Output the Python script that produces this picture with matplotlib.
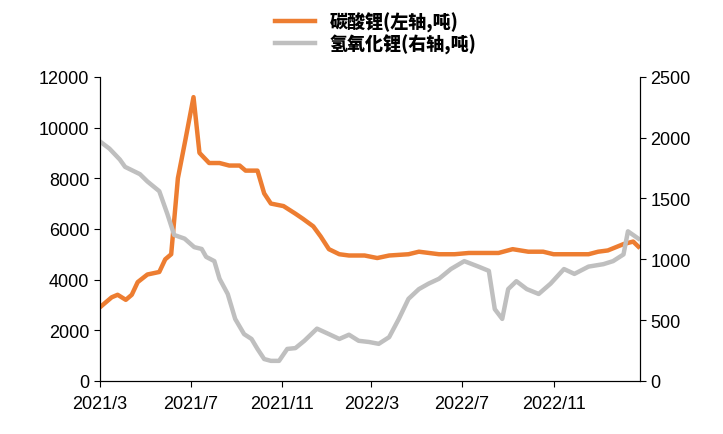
import matplotlib.pyplot as plt
import matplotlib.font_manager as fm
import pandas as pd

plt.rcParams["font.family"] = "Liberation Sans"

# find a CJK font file for the legend text
cjk_files = [f for f in fm.findSystemFonts() if "CJK" in f or "cjk" in f.lower()]
cjk_prop = fm.FontProperties(fname=sorted(cjk_files)[0], size=13) if cjk_files else \
    fm.FontProperties(family="Noto Sans CJK SC", size=13)

carb_dates = ["2021-03-01", "2021-03-17", "2021-03-25", "2021-04-05", "2021-04-13", "2021-04-21",
              "2021-05-04", "2021-05-20", "2021-05-28", "2021-06-05", "2021-06-14", "2021-06-24",
              "2021-07-05", "2021-07-13", "2021-07-26", "2021-08-09", "2021-08-22", "2021-09-05",
              "2021-09-13", "2021-09-29", "2021-10-08", "2021-10-17", "2021-11-03", "2021-11-19",
              "2021-11-29", "2021-12-13", "2021-12-23", "2022-01-03", "2022-01-17", "2022-01-30",
              "2022-02-20", "2022-03-09", "2022-03-25", "2022-04-20", "2022-05-04", "2022-05-31",
              "2022-06-21", "2022-07-10", "2022-08-19", "2022-09-07", "2022-09-28", "2022-10-18",
              "2022-11-01", "2022-12-18", "2022-12-31", "2023-01-13", "2023-02-03", "2023-02-16",
              "2023-02-23"]
carb_vals = [2900, 3300, 3400, 3200, 3400, 3900, 4200, 4300, 4800, 5000, 8000, 9500,
             11200, 9000, 8600, 8600, 8500, 8500, 8300, 8300, 7400, 7000, 6900, 6600,
             6400, 6100, 5700, 5200, 5000, 4950, 4950, 4850, 4950, 5000, 5100, 5000,
             5000, 5050, 5050, 5200, 5100, 5100, 5000, 5000, 5100, 5150, 5400, 5500, 5300]

hydr_dates = ["2021-03-01", "2021-03-14", "2021-03-28", "2021-04-04", "2021-04-24", "2021-05-04",
              "2021-05-20", "2021-05-31", "2021-06-09", "2021-06-23", "2021-07-06", "2021-07-16",
              "2021-07-22", "2021-08-02", "2021-08-09", "2021-08-20", "2021-08-30", "2021-09-11",
              "2021-09-21", "2021-09-29", "2021-10-08", "2021-10-17", "2021-10-28", "2021-11-08",
              "2021-11-19", "2021-12-01", "2021-12-18", "2022-01-03", "2022-01-17", "2022-01-30",
              "2022-02-12", "2022-02-26", "2022-03-11", "2022-03-25", "2022-04-07", "2022-04-20",
              "2022-05-04", "2022-05-17", "2022-05-31", "2022-06-16", "2022-07-04", "2022-07-23",
              "2022-08-06", "2022-08-14", "2022-08-24", "2022-09-01", "2022-09-12", "2022-09-26",
              "2022-10-12", "2022-10-28", "2022-11-15", "2022-11-29", "2022-12-18", "2023-01-07",
              "2023-01-20", "2023-02-03", "2023-02-09", "2023-02-23"]
hydr_vals = [1970, 1910, 1820, 1760, 1700, 1640, 1560, 1370, 1200, 1170, 1100, 1085,
             1020, 985, 840, 715, 510, 385, 345, 263, 180, 165, 165, 263,
             270, 330, 430, 385, 345, 380, 330, 320, 305, 360, 510, 675,
             755, 800, 840, 920, 985, 940, 905, 590, 510, 755, 820, 755,
             715, 800, 920, 880, 940, 960, 985, 1040, 1230, 1170]

tick_dates = ["2021-03-01", "2021-07-01", "2021-11-01", "2022-03-01", "2022-07-01", "2022-11-01"]
tick_labels = ["2021/3", "2021/7", "2021/11", "2022/3", "2022/7", "2022/11"]

fig = plt.figure(figsize=(7.23, 4.35), dpi=100)
ax = fig.add_axes([0.138, 0.122, 0.747, 0.699])
ax2 = ax.twinx()

l1, = ax.plot(pd.to_datetime(carb_dates), carb_vals, color="#ED7D31", lw=3.2, label="碳酸锂(左轴,吨)")
l2, = ax2.plot(pd.to_datetime(hydr_dates), hydr_vals, color="#BFBFBF", lw=3.2, label="氢氧化锂(右轴,吨)")

ax.set_ylim(0, 12000)
ax.set_yticks(range(0, 12001, 2000))
ax2.set_ylim(0, 2500)
ax2.set_yticks(range(0, 2501, 500))
ax.set_xlim(pd.Timestamp("2021-03-01"), pd.Timestamp("2023-02-25"))
ax.set_xticks(pd.to_datetime(tick_dates))
ax.set_xticklabels(tick_labels)

for a in (ax, ax2):
    a.spines["top"].set_visible(False)
    a.tick_params(labelsize=13, length=4, direction="out")
ax.tick_params(axis="x", pad=6)

fig.legend(handles=[l1, l2], loc="upper center", bbox_to_anchor=(0.52, 1.0),
           frameon=False, prop=cjk_prop, ncol=1, handlelength=2.2,
           labelspacing=0.1, borderaxespad=0.3)

fig.savefig("out.png", dpi=100)
